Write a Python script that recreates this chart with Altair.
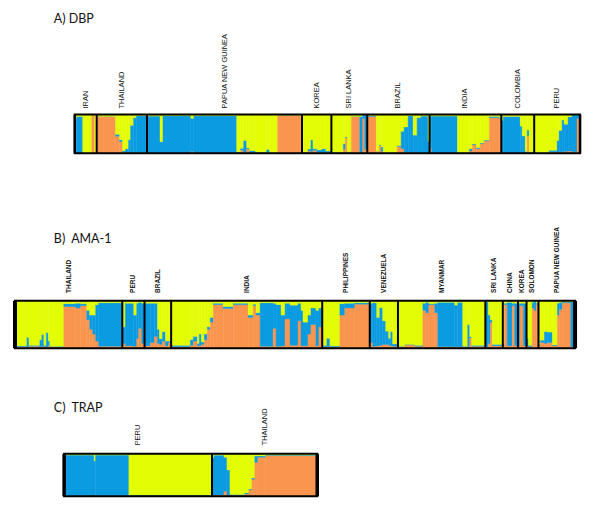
import altair as alt
import pandas as pd

# ---------------- colours of the three ancestral clusters ----------------
CLUSTERS = ["orange", "blue", "yellow"]
CLUSTER_COLORS = ["#f9954e", "#0a9be0", "#e3fd04"]

# each population: list of runs (n_individuals, orange, blue, yellow)
# ---------------- A) DBP ----------------
A_IRAN = [(2, 0, .9, .1), (6, 0, .95, .05), (9, 0, 0, 1), (3, 1, 0, 0), (2, 0, 0, 1)]
A_THAILAND = [(19, .95, 0, .05), (4, .44, .05, .51), (3, .3, .05, .65), (3, .04, .03, .93),
              (3, .02, .1, .88), (2, 0, .35, .65), (3, .02, .7, .28), (3, .02, .9, .08),
              (10.5, .02, .95, .03)]
A_PNG = [(13, .01, .95, .04), (3, 0, .3, .7), (28, .01, .96, .03), (3, .05, .85, .1),
         (43, .01, .96, .03), (4, .01, .03, .96), (3, .08, .05, .87), (3, .03, .3, .67),
         (3, .12, .02, .86), (6, .02, .05, .93), (11, 0, .03, .97), (3, .02, .08, .9),
         (8, 0, .02, .98), (23.5, .98, 0, .02), (1, 0, 0, 1)]
A_KOREA = [(6, .02, .02, .96), (3, .06, .05, .89), (2, .05, .3, .65), (4, .08, .04, .88),
           (5, .03, .06, .91), (4, .02, .1, .88), (5.5, .01, .05, .94)]
A_SRILANKA = [(12, .01, .02, .97), (2, .1, .15, .75), (2, .4, .02, .58), (4, .02, .02, .96),
              (8.5, .95, 0, .05), (3, 0, .95, .05), (2, .9, .1, 0), (2.5, .1, .9, 0)]
A_BRAZIL = [(9, .95, .02, .03), (3, .05, 0, .95), (2, .2, .02, .78), (2, .05, .12, .83),
            (14, .01, .01, .98), (4, .18, .02, .8), (3, .12, .45, .43), (4, .03, .65, .32),
            (5, .02, .95, .03), (4, .02, .45, .53), (4, .02, .9, .08), (7, .01, .95, .04),
            (1.5, 0, .3, .7)]
A_INDIA = [(2, .15, .8, .05), (26, .01, .95, .04), (12, 0, .02, .98), (3, .06, .06, .88),
           (4, .22, .02, .76), (4, .12, .03, .85), (4, .25, .02, .73), (5, .32, .02, .66),
           (10, .92, .03, .05), (2, .9, .02, .08)]
A_COLOMBIA = [(2, 0, .85, .15), (17, 0, .95, .05), (2, 0, .7, .3), (3, 0, .45, .55),
              (2, 0, .05, .95), (2, .45, .15, .4), (5, .02, .02, .96)]
A_PERU = [(15, .01, .01, .98), (8, .04, .04, .92), (2, .03, .3, .67), (3, .04, .55, .41),
          (2, .04, .82, .14), (4, .05, .7, .25), (4, .06, .88, .06), (5, .04, .95, .01),
          (3, .9, .1, 0)]

# ---------------- B) AMA-1 ----------------
B_THAILAND = [(12, .03, .02, .95), (2, .03, .2, .77), (11, .04, .02, .94), (2, .03, .15, .82),
              (2, .04, .25, .71), (2.5, .03, .03, .94), (2, .03, .3, .67), (1.5, .05, .1, .85),
              (14, .03, .01, .96), (12, .88, .06, .06), (5, .85, .1, .05), (6, .9, .04, .06),
              (3, .6, .2, .2), (3, .4, .3, .3), (3, .3, .4, .3), (3, .15, .77, .08),
              (23.7, .04, .92, .04)]
B_PERU = [(3, .1, .35, .55), (8.5, .05, .9, .05), (3, .04, .66, .3), (2, .2, .75, .05),
          (3, .42, .55, .03), (2.8, .1, .85, .05)]
B_BRAZIL = [(6, .05, .9, .05), (4, .12, .83, .05), (3, .25, .7, .05), (2, .1, .3, .6),
            (3, .08, .12, .8), (3, .15, .2, .65), (3, .05, .1, .85), (2.7, .12, .03, .85)]
B_INDIA = [(19.3, .03, .03, .94), (3, .06, .12, .82), (4, .15, .1, .75), (2, .05, .05, .9),
           (2, .05, .25, .7), (3, .08, .05, .87), (3, .18, .12, .7), (3, .4, .05, .55),
           (3, .55, .1, .35), (10, .92, .03, .05), (10, .84, .04, .12), (15, .92, .03, .05),
           (5, .65, .05, .3), (3, .9, .03, .07), (4, .7, .05, .25), (13, .04, .92, .04),
           (3, .42, .53, .05), (5, .04, .88, .08), (4, .05, .65, .3), (5, .62, .33, .05),
           (8, .06, .85, .09), (3, .58, .37, .05), (2, .05, .75, .2), (5, .05, .5, .45),
           (3, .3, .4, .3), (5, .5, .35, .15), (3, .05, .75, .2), (3.3, .45, .4, .15)]
B_PHILIPPINES = [(4.7, .03, .03, .94), (3, .03, .18, .79), (10, .03, .02, .95),
                 (5, .7, .24, .06), (10, .85, .1, .05), (15, .93, .03, .04)]
B_VENEZUELA = [(3, .12, .83, .05), (4, .04, .92, .04), (3, .05, .6, .35), (3, .06, .8, .14),
               (3, .08, .5, .42), (3, .08, .28, .64), (2, .06, .15, .79), (2, .05, .3, .65),
               (5.3, .04, .05, .91)]
B_MYANMAR = [(7, .03, .01, .96), (10, .07, .01, .92), (8, .04, .02, .94), (3, .8, .15, .05),
             (3, .75, .22, .03), (6, .92, .02, .06), (3, .75, .2, .05), (17, .03, .94, .03),
             (3, .03, .88, .09), (5, .03, .94, .03), (5, .02, .02, .96), (2, .03, .47, .5),
             (2, .22, .02, .76), (13.7, .04, .02, .94)]
B_SRILANKA = [(3, .03, .95, .02), (2, .1, .6, .3), (2, .55, .05, .4), (10.5, .05, .03, .92)]
B_CHINA = [(1.5, .05, .05, .9), (3, .92, .03, .05), (5, .05, .92, .03), (2.5, .9, .05, .05),
           (3.2, .05, .9, .05)]
B_KOREA = [(2, .05, .9, .05), (3.5, .9, .05, .05), (3.1, .05, .9, .05)]
B_SOLOMON = [(2, .05, .15, .8), (3.7, .03, .03, .94), (2, .85, .12, .03), (2, .8, .2, 0),
             (2.3, .93, .02, .05)]
B_PNG = [(2, .06, .02, .92), (4, .12, .05, .83), (3, .1, .25, .65), (5, .12, .22, .66),
         (5, .05, .02, .93), (2, .7, .25, .05), (3, .82, .15, .03), (8.4, .96, .02, .02),
         (4.3, .03, .95, .02)]

# ---------------- C) TRAP ----------------
C_PERU = [(30, .01, .96, .03), (1.5, .03, .8, .17), (33.5, .01, .96, .03), (83.4, .01, .02, .97)]
C_THAILAND = [(2, .02, .9, .08), (10, .03, .94, .03), (3, .12, .8, .08), (3, .02, .6, .38),
              (15, .02, .02, .96), (4, .05, .03, .92), (3, .15, .02, .83), (3, .4, .03, .57),
              (3, .8, .15, .05), (8, .92, .03, .05), (51.6, .96, .01, .03)]

PANEL_A = [("IRAN", A_IRAN), ("THAILAND", A_THAILAND), ("PAPUA NEW GUINEA", A_PNG),
           ("KOREA", A_KOREA), ("SRI LANKA", A_SRILANKA), ("BRAZIL", A_BRAZIL),
           ("INDIA", A_INDIA), ("COLOMBIA", A_COLOMBIA), ("PERU", A_PERU)]
PANEL_B = [("THAILAND", B_THAILAND), ("PERU", B_PERU), ("BRAZIL", B_BRAZIL), ("INDIA", B_INDIA),
           ("PHILIPPINES", B_PHILIPPINES), ("VENEZUELA", B_VENEZUELA), ("MYANMAR", B_MYANMAR),
           ("SRI LANKA", B_SRILANKA), ("CHINA", B_CHINA), ("KOREA", B_KOREA),
           ("SOLOMON", B_SOLOMON), ("PAPUA NEW GUINEA", B_PNG)]
PANEL_C = [("PERU", C_PERU), ("THAILAND", C_THAILAND)]

TITLES = ["A) DBP", "B)\u00a0 AMA-1", "C)\u00a0 TRAP"]
LABEL_FONT = "Liberation Sans"


def build(pops, label_y):
    rows, bounds = [], []
    x = 0.0
    for name, runs in pops:
        start = x
        for w, o, b, yv in runs:
            tot = o + b + yv
            cum = 0.0
            for comp, val in zip(CLUSTERS, (o, b, yv)):
                v = val / tot
                rows.append(dict(x=x, x2=x + w, y=cum, y2=cum + v, comp=comp))
                cum += v
            x += w
        bounds.append(dict(name=name, start=start, end=x, mid=(start + x) / 2,
                           y0=0.0, y1=1.0, ly=label_y))
    return pd.DataFrame(rows), pd.DataFrame(bounds), x


WIDTH = 584


def panel(pops, title, box_left, height, ydom, label_y, lab_size, lab_weight, title_y,
          side_width):
    df, bd, total = build(pops, label_y)
    xs = alt.Scale(domain=[-box_left, WIDTH - box_left], nice=False, zero=False)
    ys = alt.Scale(domain=ydom, nice=False, zero=False)
    col = alt.Scale(domain=CLUSTERS, range=CLUSTER_COLORS)

    bars = alt.Chart(df).mark_rect(strokeWidth=0.4).encode(
        x=alt.X("x:Q", scale=xs, axis=None), x2="x2:Q",
        y=alt.Y("y:Q", scale=ys, axis=None), y2="y2:Q",
        color=alt.Color("comp:N", scale=col, legend=None),
        stroke=alt.Stroke("comp:N", scale=col, legend=None),
    )
    box_df = pd.DataFrame([dict(x=0.0, x2=total, y=0.0, y2=1.0)])
    box = alt.Chart(box_df).mark_rect(fillOpacity=0, stroke="black", strokeWidth=2).encode(
        x=alt.X("x:Q", scale=xs, axis=None), x2="x2:Q",
        y=alt.Y("y:Q", scale=ys, axis=None), y2="y2:Q")
    sides_df = pd.DataFrame([dict(x=0.0, y=0.0, y2=1.0), dict(x=total, y=0.0, y2=1.0)])
    sides = alt.Chart(sides_df).mark_rule(color="black", strokeWidth=side_width).encode(
        x=alt.X("x:Q", scale=xs, axis=None),
        y=alt.Y("y:Q", scale=ys, axis=None), y2="y2:Q")
    seps = alt.Chart(bd.iloc[1:]).mark_rule(color="black", strokeWidth=2).encode(
        x=alt.X("start:Q", scale=xs, axis=None),
        y=alt.Y("y0:Q", scale=ys, axis=None), y2="y1:Q")
    labels = alt.Chart(bd).mark_text(
        angle=270, align="left", baseline="middle", font=LABEL_FONT,
        fontSize=lab_size, fontWeight=lab_weight, color="#111111"
    ).encode(x=alt.X("mid:Q", scale=xs, axis=None), y=alt.Y("ly:Q", scale=ys, axis=None),
             text="name:N")
    ttl = alt.Chart(pd.DataFrame([dict(t=title)])).mark_text(
        align="left", baseline="middle", font="Lato", fontSize=12.5, color="#111"
    ).encode(x=alt.value(45), y=alt.value(title_y), text="t:N")
    return alt.layer(bars, seps, box, sides, labels, ttl).properties(width=WIDTH, height=height)


pA = panel(PANEL_A, TITLES[0], 66, 172, [-0.718, 3.692], 1.154, 7.5, "normal", 9, 2.5)
pB = panel(PANEL_B, TITLES[1], 6, 197, [-0.663, 3.484], 1.168, 6.5, "bold", 56, 4)
pC = panel(PANEL_C, TITLES[2], 55.3, 123, [-0.188, 2.706], 1.2, 7.5, "normal", 27, 3.5)

chart = alt.vconcat(pA, pB, pC, spacing=0).properties(padding=0).configure_view(
    stroke="transparent")

chart.save("out.html", embed_options={"renderer": "svg", "actions": False})
